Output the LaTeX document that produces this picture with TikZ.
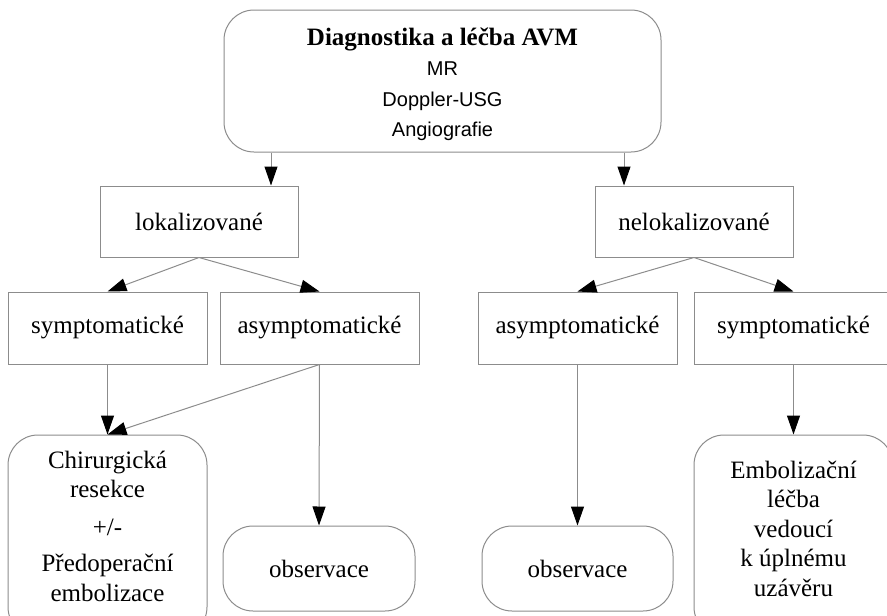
\documentclass[tikz,border=0pt]{standalone}
\usepackage{fontspec}
\setmainfont{Liberation Serif}
\setsansfont{Liberation Sans}
\usetikzlibrary{arrows.meta}
\definecolor{edge}{gray}{0.55}
\begin{document}
\begin{tikzpicture}[x=1pt,y=-1pt,
  base/.style={draw=edge, line width=1pt, fill=white, inner sep=0pt, align=center,
    font=\fontsize{25}{29.5}\selectfont},
  sqbox/.style={base, minimum width=199pt, minimum height=72pt},
  rbox/.style={base, rounded corners=30pt},
  txt/.style={inner sep=0pt, align=center, font=\fontsize{25}{29.5}\selectfont},
  arr/.style={draw=edge, line width=1pt,
    -{Triangle[length=19pt,width=13pt,color=black,fill=black]}}]
\useasboundingbox (0,0) rectangle (887,616);
\clip (0,0) rectangle (887,616);

% diagnosis header
\node[rbox, minimum width=437pt, minimum height=142pt] (top) at (442.5,81) {};
\node[txt, font=\fontsize{20}{30.5}\selectfont\sffamily] (toptxt) at (442.5,84.3)
  {{\rmfamily\bfseries\fontsize{25}{30}\selectfont Diagnostika a léčba AVM}\\[-0.3pt]
   MR\\ Doppler-USG\\ Angiografie};

% first split
\node[sqbox, minimum width=198pt, minimum height=71pt] (lok) at (199,221.5) {lokalizované};
\node[sqbox, minimum width=198pt, minimum height=71pt] (nelok) at (694,221.5) {nelokalizované};

% second split
\node[sqbox] (symL) at (107.5,328) {symptomatické};
\node[sqbox] (asymL) at (319.5,328) {asymptomatické};
\node[sqbox] (asymR) at (577.5,328) {asymptomatické};
\node[sqbox] (symR) at (793.5,328) {symptomatické};

% outcomes
\node[rbox, minimum width=199pt, minimum height=202pt] (chir) at (107.5,536) {};
\node[txt] (chirtxt) at (107.5,526)
  {Chirurgická\\ resekce\\[8pt] +/-\\[7pt] Předoperační\\ embolizace};
\node[rbox, minimum width=192pt, minimum height=85pt] (obsL) at (319,568.5) {observace};
\node[rbox, minimum width=191pt, minimum height=85pt] (obsR) at (577.5,568.5) {observace};
\node[rbox, minimum width=199pt, minimum height=202pt] (emb) at (793.5,536) {};
\node[txt] (embtxt) at (793.5,528.5)
  {Embolizační\\ léčba\\ vedoucí\\ k úplnému\\ uzávěru};

% connectors
\draw[arr] ([xshift=72pt]lok.north |- top.south) -- ([xshift=72pt]lok.north);
\draw[arr] ([xshift=-70pt]nelok.north |- top.south) -- ([xshift=-70pt]nelok.north);
\draw[arr] (lok.south) -- (symL.north);
\draw[arr] (lok.south) -- (asymL.north);
\draw[arr] (nelok.south) -- (asymR.north);
\draw[arr] (nelok.south) -- (symR.north);
\draw[arr] (symL.south) -- (chir.north);
\draw[arr] (asymL.south) -- (chir.north);
\draw[arr] (asymL.south) -- (obsL.north);
\draw[arr] (asymR.south) -- (obsR.north);
\draw[arr] (symR.south) -- (emb.north);
\end{tikzpicture}
\end{document}
